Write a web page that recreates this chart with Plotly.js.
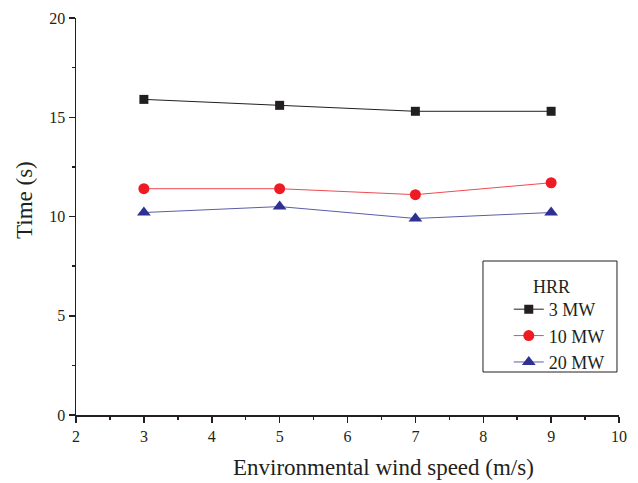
<!DOCTYPE html>
<html><head><meta charset="utf-8">
<script src="https://cdn.plot.ly/plotly-3.0.1.min.js"></script>
<style>body{margin:0;background:#fff}#chart{width:638px;height:483px}</style>
</head><body><div id="chart"></div>
<script>
const windSpeed = [3, 5, 7, 9];
const hrr3MW = [15.9, 15.6, 15.3, 15.3];
const hrr10MW = [11.4, 11.4, 11.1, 11.7];
const hrr20MW = [10.2, 10.5, 9.9, 10.2];
const seriesNames = ['3 MW', '10 MW', '20 MW'];
const legendTitle = 'HRR';
const xTitle = 'Environmental wind speed (m/s)';
const yTitle = 'Time (s)';

const font = 'Liberation Serif, Times New Roman, serif';
const ink = '#231f20';
const traces = [
  {x: windSpeed, y: hrr3MW, name: seriesNames[0], mode: 'lines+markers', type: 'scatter',
   line: {color: ink, width: 1}, marker: {symbol: 'square', size: 9, color: ink}},
  {x: windSpeed, y: hrr10MW, name: seriesNames[1], mode: 'lines+markers', type: 'scatter',
   line: {color: '#f04a50', width: 1}, marker: {symbol: 'circle', size: 11, color: '#ed1c24'}},
  {x: windSpeed, y: hrr20MW, name: seriesNames[2], mode: 'lines+markers', type: 'scatter',
   line: {color: '#5a5da8', width: 1}, marker: {symbol: 'triangle-up', size: 12, color: '#2e3192'}}
];
const layout = {
  width: 638, height: 483,
  margin: {l: 76, r: 19, t: 18, b: 68},
  paper_bgcolor: '#fff', plot_bgcolor: '#fff',
  font: {family: font, color: ink, size: 16},
  showlegend: true,
  legend: {x: 0.797, y: 0.3124, xanchor: 'left', yanchor: 'top',
    borderwidth: 0, bgcolor: 'rgba(0,0,0,0)',
    font: {family: font, size: 18}, tracegroupgap: 0, itemwidth: 30},
  shapes: [{type: 'rect', xref: 'paper', yref: 'paper', x0: 0.7495, x1: 0.9963, y0: 0.1083, y1: 0.3879,
    line: {color: ink, width: 1}, fillcolor: 'rgba(0,0,0,0)', layer: 'above'}],
  annotations: [
    {text: legendTitle, xref: 'paper', yref: 'paper', x: 0.838, y: 0.3225, xanchor: 'left', yanchor: 'middle',
     showarrow: false, font: {family: font, size: 18, color: ink}},
    {text: xTitle, xref: 'paper', yref: 'paper', x: 0.5654, y: -0.1335, xanchor: 'center', yanchor: 'middle',
     showarrow: false, font: {family: font, size: 23, color: ink}},
    {text: yTitle, xref: 'paper', yref: 'paper', x: -0.0939, y: 0.5416, xanchor: 'center', yanchor: 'middle',
     textangle: -90, showarrow: false, font: {family: font, size: 23, color: ink}}
  ],
  xaxis: {range: [2, 10], dtick: 1, tick0: 2, showgrid: false, zeroline: false,
    showline: true, linecolor: ink, linewidth: 1.5, ticks: 'outside', ticklen: 6,
    tickwidth: 1.5, tickcolor: ink, tickfont: {family: font, size: 16},
    minor: {dtick: 0.5, ticks: 'outside', ticklen: 3, tickwidth: 1.5, tickcolor: ink, showgrid: false}},
  yaxis: {range: [0, 20], dtick: 5, showgrid: false, zeroline: false,
    showline: true, linecolor: ink, linewidth: 1.5, ticks: 'outside', ticklen: 6,
    tickwidth: 1.5, tickcolor: ink, tickfont: {family: font, size: 16},
    minor: {dtick: 2.5, ticks: 'outside', ticklen: 3, tickwidth: 1.5, tickcolor: ink, showgrid: false}}
};
Plotly.newPlot('chart', traces, layout, {displayModeBar: false, staticPlot: true});
</script></body></html>
